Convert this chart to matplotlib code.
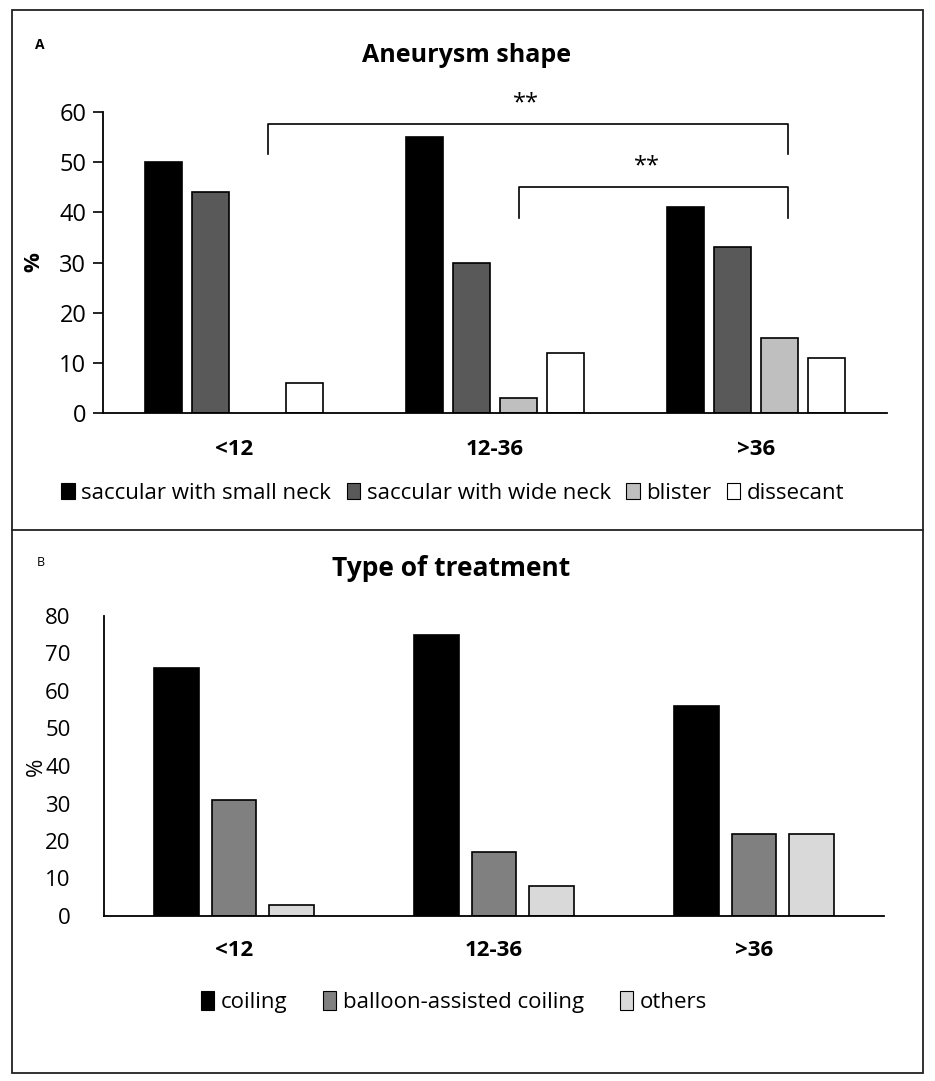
import numpy as np
import matplotlib
matplotlib.use('Agg')
import matplotlib.pyplot as plt
from matplotlib.patches import Patch, Rectangle
from matplotlib.lines import Line2D

plt.rcParams['font.family'] = ['Open Sans', 'DejaVu Sans']

groups = ['<12', '12-36', '>36']

# panel A: aneurysm shape (%)
shape_names = ['saccular with small neck', 'saccular with wide neck', 'blister', 'dissecant']
shape_small = [50, 55, 41]
shape_wide = [44, 30, 33]
shape_blister = [0, 3, 15]
shape_dissecant = [6, 12, 11]
shape_colors = ['#000000', '#595959', '#bfbfbf', '#ffffff']

# significance brackets on panel A
brk_x0 = [0.13, 1.09]
brk_x1 = [2.12, 2.12]
brk_top = [57.6, 45.0]
brk_leg = [51.7, 38.8]
brk_text = ['**', '**']
brk_text_x = [1.12, 1.58]

# panel B: type of treatment (%)
treat_names = ['coiling', 'balloon-assisted coiling', 'others']
treat_coiling = [66, 75, 56]
treat_balloon = [31, 17, 22]
treat_others = [3, 8, 22]
treat_colors = ['#000000', '#808080', '#d9d9d9']

W, H = 935, 1081
fig = plt.figure(figsize=(W / 100, H / 100), dpi=100)


def fx(px):
    return px / W


def fy(py):
    return 1 - py / H


# outer frame and divider
fig.add_artist(Rectangle((fx(12), fy(1073)), fx(923) - fx(12), fy(10) - fy(1073),
                         transform=fig.transFigure, fill=False, ec='#222222', lw=1.3))
fig.add_artist(Line2D([fx(12), fx(923)], [fy(530), fy(530)],
                      transform=fig.transFigure, color='#222222', lw=1.3))

x = np.arange(len(groups))

# ---- panel A ----
axA = fig.add_axes([fx(103), fy(413), fx(887) - fx(103), fy(112) - fy(413)])
series = [shape_small, shape_wide, shape_blister, shape_dissecant]
step, width = 0.18, 0.142
for i, (vals, col) in enumerate(zip(series, shape_colors)):
    off = (i - 1.5) * step
    v = np.array(vals, dtype=float)
    keep = v > 0
    axA.bar(x[keep] + off, v[keep], width=width, color=col, edgecolor='black', lw=1.2)
axA.set_xlim(-0.5, 2.5)
axA.set_ylim(0, 60)
axA.set_yticks(range(0, 61, 10))
axA.set_xticks(x)
axA.set_xticklabels(groups, fontsize=16, fontweight='bold')
axA.tick_params(axis='x', length=0, pad=19)
axA.tick_params(axis='y', length=7, width=1.2, labelsize=17, pad=5)
for s in ['top', 'right']:
    axA.spines[s].set_visible(False)
for s in ['left', 'bottom']:
    axA.spines[s].set_linewidth(1.3)

for x0, x1, t, l, txt, tx in zip(brk_x0, brk_x1, brk_top, brk_leg, brk_text, brk_text_x):
    axA.plot([x0, x0, x1, x1], [l, t, t, l], color='black', lw=1.2, clip_on=False)
    axA.text(tx, t + 1.8, txt, ha='center', va='bottom', fontsize=17, clip_on=False)

fig.text(fx(40), fy(45), 'A', fontsize=10, fontweight='bold', ha='center', va='center')
fig.text(fx(467), fy(56), 'Aneurysm shape', fontsize=18, fontweight='bold',
         ha='center', va='center')
fig.text(fx(34), fy(262), '%', fontsize=16, fontweight='bold', rotation=90,
         ha='center', va='center')

handles = [Patch(facecolor=c, edgecolor='black', lw=0.8) for c in shape_colors]
fig.legend(handles, shape_names, loc='center', bbox_to_anchor=(fx(453), fy(493)),
           ncol=4, frameon=False, fontsize=16, handlelength=0.6, handleheight=0.7,
           handletextpad=0.3, columnspacing=0.7)

# ---- panel B ----
axB = fig.add_axes([fx(104), fy(916), fx(884) - fx(104), fy(616) - fy(916)])
series = [treat_coiling, treat_balloon, treat_others]
step, width = 0.223, 0.173
for i, (vals, col) in enumerate(zip(series, treat_colors)):
    off = (i - 1) * step
    axB.bar(x + off, vals, width=width, color=col, edgecolor='black', lw=1.2)
axB.set_xlim(-0.5, 2.5)
axB.set_ylim(0, 80)
axB.set_yticks(range(0, 81, 10))
axB.set_xticks(x)
axB.set_xticklabels(groups, fontsize=16, fontweight='bold')
axB.tick_params(axis='x', length=0, pad=17)
axB.tick_params(axis='y', length=0, labelsize=16, pad=24)
for s in ['top', 'right']:
    axB.spines[s].set_visible(False)
for s in ['left', 'bottom']:
    axB.spines[s].set_linewidth(1.3)

fig.text(fx(41), fy(563), 'B', fontsize=9, ha='center', va='center')
fig.text(fx(451), fy(569), 'Type of treatment', fontsize=19, fontweight='bold',
         ha='center', va='center')
fig.text(fx(36), fy(767), '%', fontsize=16, rotation=90, ha='center', va='center')

handles = [Patch(facecolor=c, edgecolor='black', lw=0.8) for c in treat_colors]
fig.legend(handles, treat_names, loc='center', bbox_to_anchor=(fx(454), fy(1002)),
           ncol=3, frameon=False, fontsize=16,
           handlelength=0.6, handleheight=0.9, handletextpad=0.3, columnspacing=1.6)

fig.savefig('out.png', dpi=100)
